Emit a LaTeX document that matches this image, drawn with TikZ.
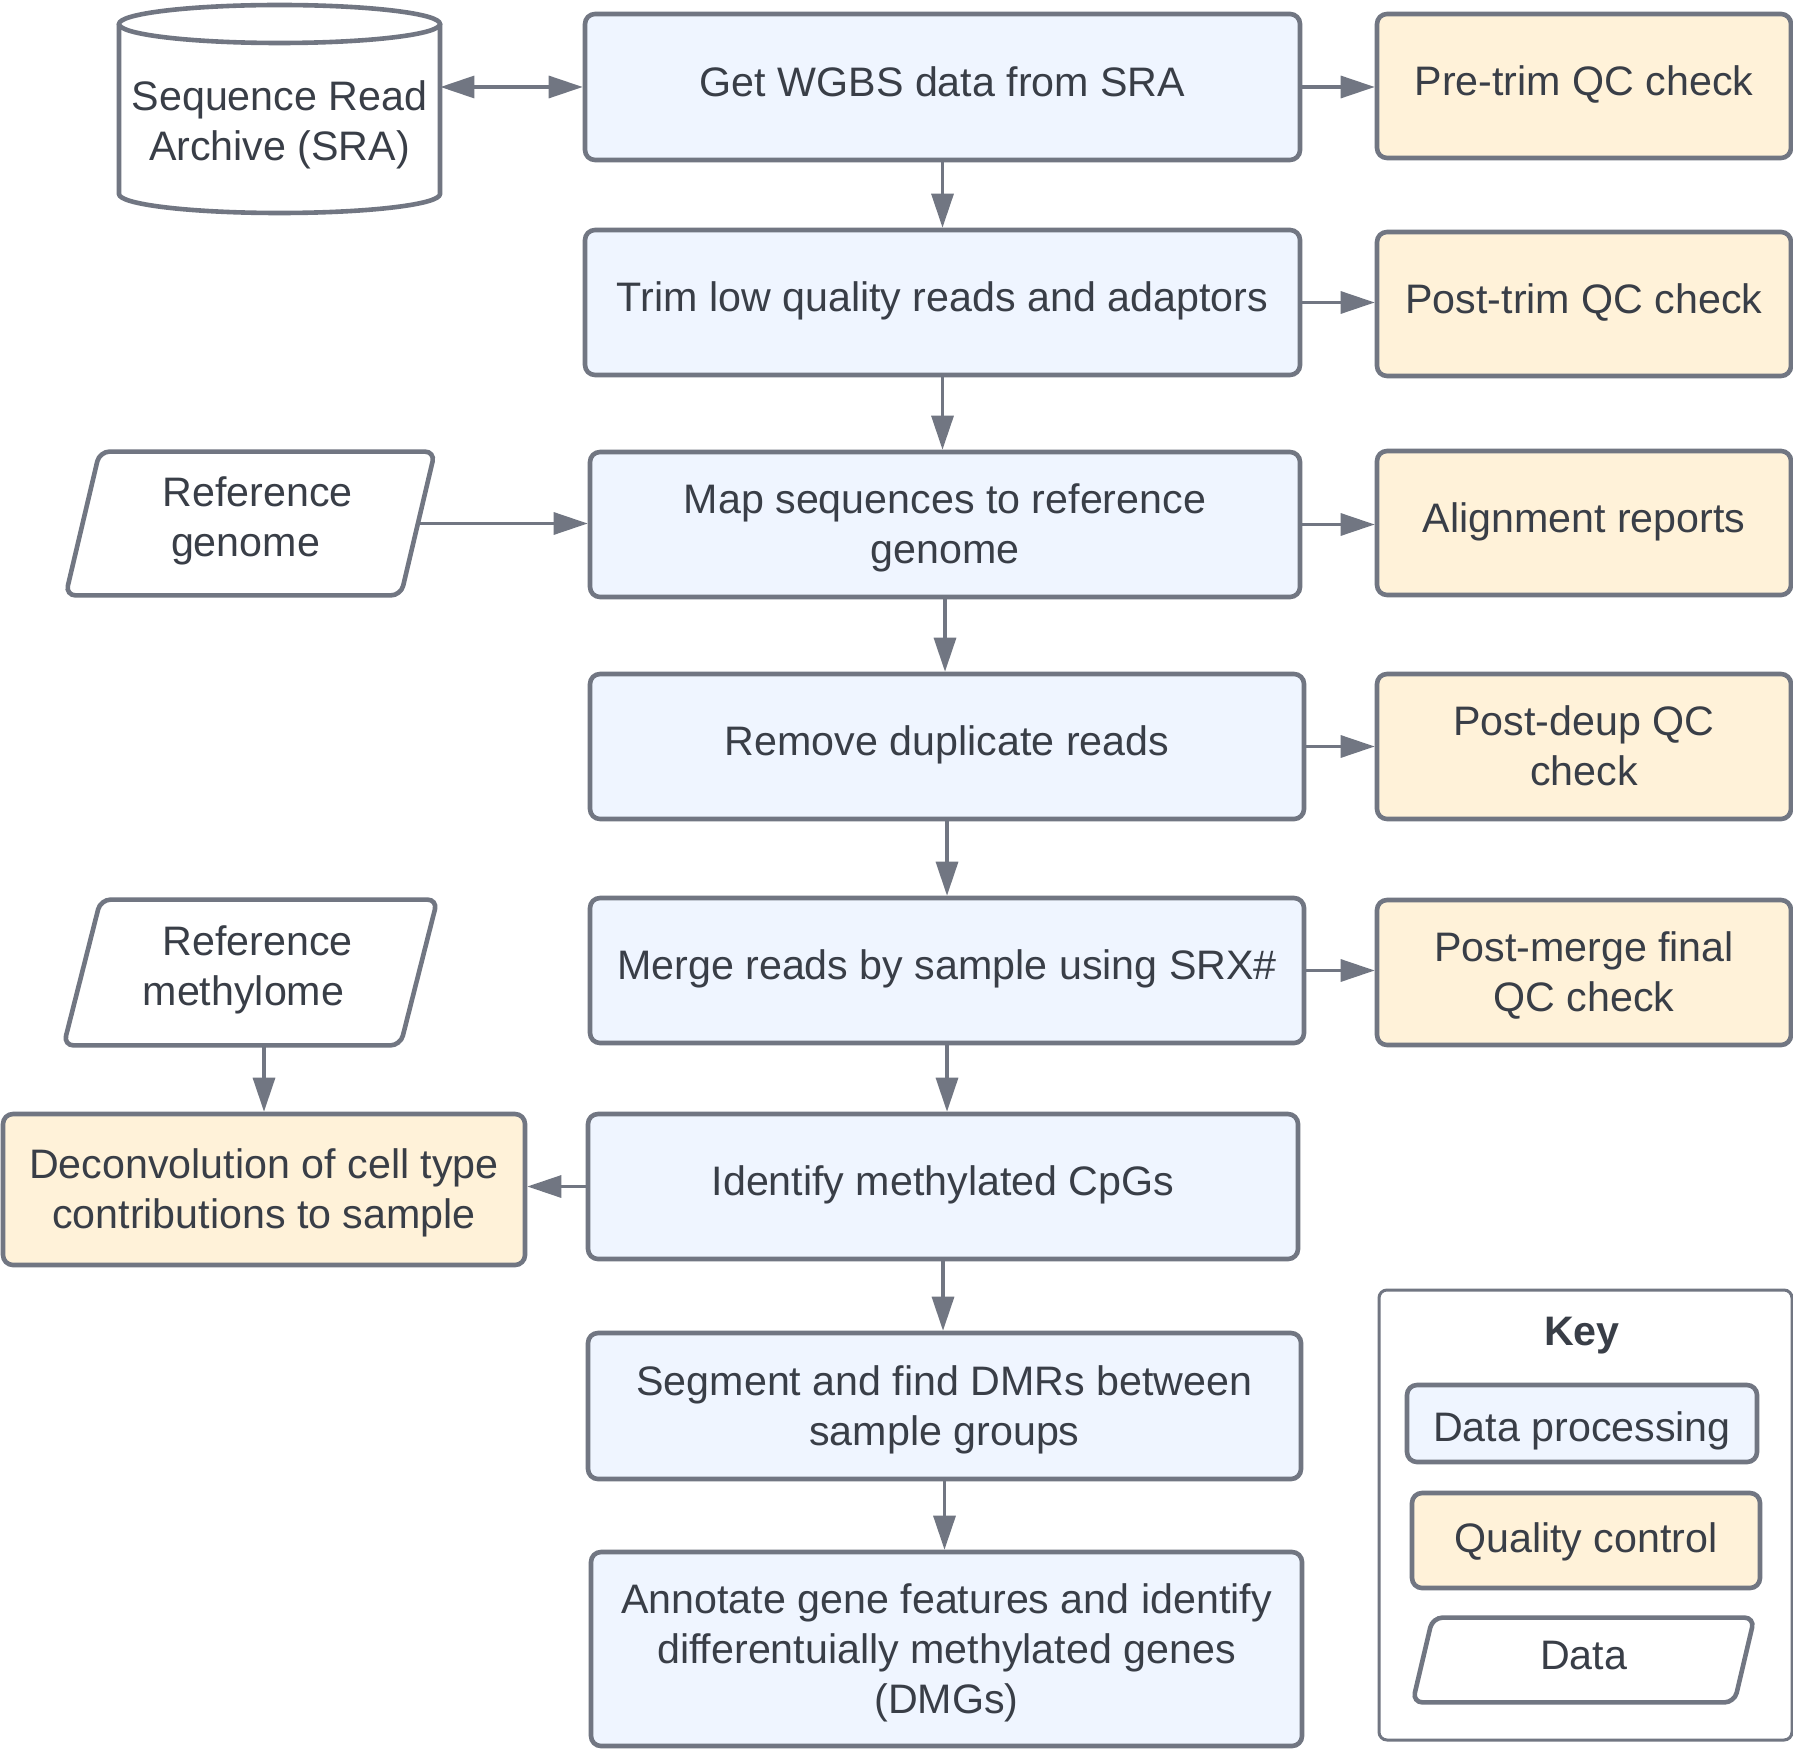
\documentclass[tikz,border=0pt]{standalone}
\usepackage{fontspec}
\setmainfont{Liberation Sans}
\usetikzlibrary{arrows.meta,calc}
\definecolor{bordc}{RGB}{113,118,130}
\definecolor{bluef}{RGB}{239,245,255}
\definecolor{yelf}{RGB}{255,242,217}
\definecolor{txtc}{RGB}{57,62,71}
\newcommand\TS[1]{\rule{0pt}{#1}}
\newcommand\BS[1]{\rule[-#1]{0pt}{#1}}
\tikzset{
  txt/.style={text=txtc, align=center, inner sep=0pt, font=\fontsize{20.6pt}{25pt}\selectfont},
  base/.style={txt, rectangle, rounded corners=5pt, draw=bordc, line width=2.3pt},
  proc/.style={base, fill=bluef},
  qcbox/.style={base, fill=yelf},
  datanode/.style={txt, rectangle},
  datashape/.style={draw=bordc, line width=2.3pt, rounded corners=5pt},
  arr/.style={draw=bordc, line width=1.6pt, -{Triangle[length=17pt,width=11pt]}},
  darr/.style={draw=bordc, line width=1.6pt, {Triangle[length=17pt,width=11pt]}-{Triangle[length=17pt,width=11pt]}},
}
\begin{document}
\begin{tikzpicture}[x=0.5pt,y=-0.5pt]
\useasboundingbox[fill=white] (0,0) rectangle (1793,1749);

% main column
\node[proc, minimum width=357.5pt, minimum height=73pt] (get) at (942.5,87) {\TS{18pt}Get WGBS data from SRA\BS{8.6pt}};
\node[proc, minimum width=357.5pt, minimum height=72.5pt] (trim) at (942.5,302.5) {\TS{18pt}Trim low quality reads and adaptors\BS{8.8pt}};
\node[proc, minimum width=355pt, minimum height=72.5pt] (map) at (945,524.5) {\TS{20pt}Map sequences to reference\\genome\BS{5.8pt}};
\node[proc, minimum width=357pt, minimum height=72.5pt] (remove) at (947,746.5) {\TS{18pt}Remove duplicate reads\BS{8.8pt}};
\node[proc, minimum width=357pt, minimum height=72.5pt] (merge) at (947,970.5) {\TS{18pt}Merge reads by sample using SRX\#\BS{8.8pt}};
\node[proc, minimum width=355pt, minimum height=72.5pt] (identify) at (943,1186.5) {\TS{18pt}Identify methylated CpGs\BS{8.8pt}};
\node[proc, minimum width=356.5pt, minimum height=73pt] (segment) at (944.5,1406) {\TS{20pt}Segment and find DMRs between\\sample groups\BS{5.8pt}};
\node[proc, minimum width=355.5pt, minimum height=97pt] (annotate) at (946.5,1649) {\TS{20pt}Annotate gene features and identify\\differentuially methylated genes\\(DMGs)\BS{5.8pt}};

% QC column
\node[qcbox, minimum width=207pt, minimum height=72pt] (pretrim) at (1584,86) {\TS{18pt}Pre-trim QC check\BS{8.8pt}};
\node[qcbox, minimum width=207pt, minimum height=72pt] (posttrim) at (1584,304) {\TS{18pt}Post-trim QC check\BS{8.8pt}};
\node[qcbox, minimum width=207pt, minimum height=72pt] (align) at (1584,523) {\TS{18pt}Alignment reports\BS{8.8pt}};
\node[qcbox, minimum width=207pt, minimum height=72.5pt] (postdeup) at (1584,746.5) {\TS{20pt}Post-deup QC\\check\BS{5.8pt}};
\node[qcbox, minimum width=207pt, minimum height=72.5pt] (postmerge) at (1584,972.5) {\TS{20pt}Post-merge final\\QC check\BS{5.8pt}};
\node[qcbox, minimum width=261pt, minimum height=75.5pt] (decon) at (264,1189.5) {\TS{20pt}Deconvolution of cell type\\contributions to sample\BS{5.8pt}};

% SRA cylinder
\node[rectangle, inner sep=0pt, minimum width=160.5pt, minimum height=104pt] (sra) at (279.5,109) {};
\draw[draw=bordc, line width=2.3pt] (119,24) -- (119,194)
  arc[start angle=180, end angle=360, x radius=80.25pt, y radius=9.5pt] -- (440,24);
\draw[draw=bordc, line width=2.3pt] (279.5,24) ellipse [x radius=80.25pt, y radius=9.5pt];
\node[txt] (sratxt) at (279.5,121.75) {\TS{20pt}Sequence Read\\Archive (SRA)\BS{5.8pt}};

% data parallelograms
\node[datanode, minimum width=167.25pt, minimum height=71.5pt] (gen) at (250.25,523.5) {\TS{18pt}\hspace*{7.25pt}Reference\\genome\hspace*{4.75pt}\BS{10.3pt}};
\draw[datashape] ([xshift=8.5pt]gen.north west) -- ([xshift=8.5pt]gen.north east) -- ([xshift=-8.5pt]gen.south east) -- ([xshift=-8.5pt]gen.south west) -- cycle;

\node[datanode, minimum width=168pt, minimum height=72.5pt] (meth) at (250.5,972.5) {\TS{18pt}\hspace*{7pt}Reference\\methylome\hspace*{7pt}\BS{10.3pt}};
\draw[datashape] ([xshift=9.25pt]meth.north west) -- ([xshift=9.25pt]meth.north east) -- ([xshift=-9.25pt]meth.south east) -- ([xshift=-9.25pt]meth.south west) -- cycle;

% key
\node[rectangle, rounded corners=4pt, draw=bordc, line width=1.5pt, minimum width=206.5pt, minimum height=225pt, inner sep=0pt] (key) at (1585.5,1515) {};
\node[txt, font=\fontsize{20.6pt}{25pt}\selectfont\bfseries] (keytitle) at (1582,1333) {\TS{18pt}Key\BS{5.3pt}};
\node[proc, minimum width=175pt, minimum height=38.5pt] (kproc) at (1582,1423.5) {\TS{23pt}Data processing\BS{5.3pt}};
\node[qcbox, minimum width=174pt, minimum height=47.5pt] (kqc) at (1586,1540.5) {\TS{18pt}Quality control\BS{6pt}};
\node[datanode, minimum width=160.5pt, minimum height=42pt] (kdata) at (1583.5,1660) {\TS{18pt}Data\BS{8.8pt}};
\draw[datashape] ([xshift=5pt]kdata.north west) -- ([xshift=5pt]kdata.north east) -- ([xshift=-5pt]kdata.south east) -- ([xshift=-5pt]kdata.south west) -- cycle;

% connectors
\draw[darr] (sra.east |- get.west) -- (get.west);
\draw[arr] (get.east) -- (get.east -| pretrim.west);
\draw[arr] (trim.east) -- (trim.east -| posttrim.west);
\draw[arr] (map.east) -- (map.east -| align.west);
\draw[arr] (remove.east) -- (remove.east -| postdeup.west);
\draw[arr] (merge.east) -- (merge.east -| postmerge.west);
\draw[arr] (get.south) -- (get.south |- trim.north);
\draw[arr] (trim.south) -- (trim.south |- map.north);
\draw[arr] (map.south) -- (map.south |- remove.north);
\draw[arr] (remove.south) -- (remove.south |- merge.north);
\draw[arr] (merge.south) -- (merge.south |- identify.north);
\draw[arr] (identify.south) -- (identify.south |- segment.north);
\draw[arr] (segment.south) -- (segment.south |- annotate.north);
\draw[arr] (gen.east) -- (gen.east -| map.west);
\draw[arr] (decon.north |- meth.south) -- (decon.north);
\draw[arr] (identify.west) -- (identify.west -| decon.east);
\end{tikzpicture}
\end{document}
